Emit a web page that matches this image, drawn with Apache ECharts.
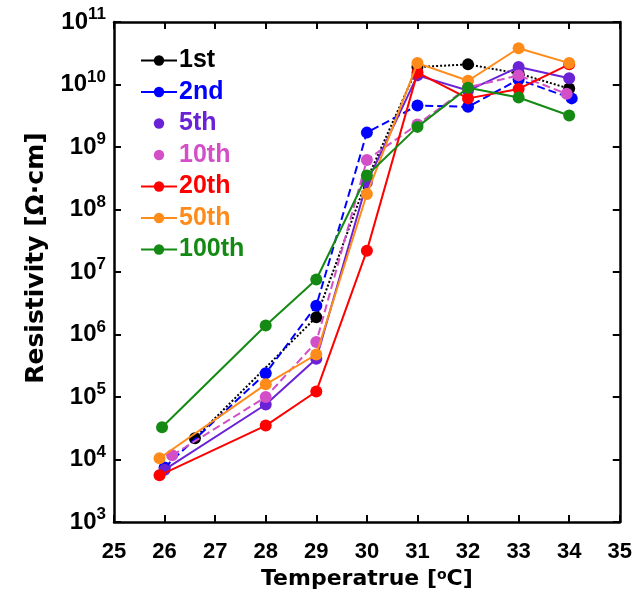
<!DOCTYPE html>
<html>
<head>
<meta charset="utf-8">
<script src="https://cdn.jsdelivr.net/npm/echarts@6/dist/echarts.min.js"></script>
<style>
html,body{margin:0;padding:0;background:#fff;}
#chart{width:635px;height:595px;}
</style>
</head>
<body>
<div id="chart"></div>
<script>
// ---- data ----
const seriesNames = ['1st', '2nd', '5th', '10th', '20th', '50th', '100th'];
const seriesColors = ['#000000', '#0000ff', '#6a22d6', '#d24fc8', '#ff0000', '#ff8c1a', '#148a14'];

const temp1st = [26.6, 29, 30, 31, 32, 33, 34];
const res1st = [2.2e4, 1.9e6, 3.0e8, 1.9e10, 2.1e10, 1.5e10, 8.6e9];

const temp2nd = [26, 28, 29, 30, 31, 32, 33, 34.05];
const res2nd = [7.5e3, 2.4e5, 2.9e6, 1.7e9, 4.6e9, 4.4e9, 1.2e10, 6.0e9];

const temp5th = [26, 28, 29, 30, 31, 32, 33, 34];
const res5th = [6.9e3, 7.6e4, 4.1e5, 2.7e8, 1.4e10, 8.0e9, 1.9e10, 1.26e10];

const temp10th = [26.15, 28, 29, 30, 31, 32, 33, 33.95];
const res10th = [1.17e4, 1.0e5, 7.6e5, 6.2e8, 2.3e9, 9.0e9, 1.4e10, 7.1e9];

const temp20th = [25.9, 28, 29, 30, 31, 32, 33, 34];
const res20th = [5.6e3, 3.5e4, 1.23e5, 2.2e7, 1.55e10, 6.0e9, 8.5e9, 2.1e10];

const temp50th = [25.9, 28, 29, 30, 31, 32, 33, 34];
const res50th = [1.05e4, 1.6e5, 4.8e5, 1.77e8, 2.2e10, 1.15e10, 3.8e10, 2.2e10];

const temp100th = [25.95, 28, 29, 30, 31, 32, 33, 34];
const res100th = [3.3e4, 1.4e6, 7.6e6, 3.5e8, 2.1e9, 8.9e9, 6.2e9, 3.2e9];

const seriesTemps = [temp1st, temp2nd, temp5th, temp10th, temp20th, temp50th, temp100th];
const seriesRes = [res1st, res2nd, res5th, res10th, res20th, res50th, res100th];
const seriesLineTypes = ['dotted', 'dashed', 'solid', 'dashed', 'solid', 'solid', 'solid'];
const legendNoLine = ['5th', '10th'];

const xMin = 25, xMax = 35, xStep = 1;
const yMin = 1e3, yMax = 1e11;
const xTitle = 'Temperatrue [{s|o}C]';
const yTitle = 'Resistivity [Ω·cm]';

// ---- chart ----
const FONT = '"Liberation Sans", Arial, sans-serif';
const WIDE = '"DejaVu Sans", sans-serif';
const chart = echarts.init(document.getElementById('chart'), null, {renderer: 'canvas'});

const series = seriesNames.map((name, i) => ({
  name: name,
  type: 'line',
  data: seriesTemps[i].map((t, k) => [t, seriesRes[i][k]]),
  symbol: 'circle',
  symbolSize: 12,
  color: seriesColors[i],
  lineStyle: {color: seriesColors[i], width: 2, type: seriesLineTypes[i]},
  itemStyle: {color: seriesColors[i]},
  emphasis: {disabled: true},
  animation: false,
  z: 2 + i
}));

const legendData = seriesNames.map((name, i) => {
  const d = {name: name, textStyle: {color: seriesColors[i]},
    lineStyle: {type: 'solid', width: 2, color: seriesColors[i]}};
  if (legendNoLine.indexOf(name) >= 0) d.lineStyle = {opacity: 0};
  return d;
});

const axisLineStyle = {show: true, lineStyle: {color: '#000', width: 2.5}};
const tickStyle = {show: true, inside: true, length: 7, lineStyle: {color: '#000', width: 2}};

chart.setOption({
  animation: false,
  backgroundColor: '#fff',
  grid: {left: 114, top: 22, right: 15, bottom: 68, containLabel: false},
  legend: {
    orient: 'vertical',
    left: 135,
    top: 43,
    itemWidth: 36,
    itemHeight: 13,
    itemGap: 6.5,
    data: legendData,
    textStyle: {fontFamily: FONT, fontWeight: 'bold', fontSize: 25, lineHeight: 23, padding: [0, 0, 0, -3]}
  },
  xAxis: [{
    type: 'value', min: xMin, max: xMax, interval: xStep,
    position: 'bottom',
    axisLine: axisLineStyle,
    axisTick: tickStyle,
    splitLine: {show: false},
    axisLabel: {color: '#000', fontFamily: FONT, fontWeight: 'bold', fontSize: 22, margin: 19},
    name: xTitle,
    nameLocation: 'middle',
    nameGap: 42,
    nameTextStyle: {color: '#000', fontFamily: WIDE, fontWeight: 'bold', fontSize: 22,
      rich: {s: {fontFamily: WIDE, fontWeight: 'bold', fontSize: 14, verticalAlign: 'top', lineHeight: 14}}}
  }, {
    type: 'value', min: xMin, max: xMax, interval: xStep,
    position: 'top',
    axisLine: axisLineStyle,
    axisTick: tickStyle,
    axisLabel: {show: false},
    splitLine: {show: false}
  }],
  yAxis: [{
    type: 'log', logBase: 10, min: yMin, max: yMax,
    position: 'left',
    axisLine: axisLineStyle,
    axisTick: tickStyle,
    minorTick: {show: false},
    splitLine: {show: false},
    axisLabel: {
      color: '#000', margin: 8,
      formatter: v => '{b|10}{e|' + Math.round(Math.log10(v)) + '}',
      rich: {
        b: {fontFamily: FONT, fontWeight: 'bold', fontSize: 24, lineHeight: 32, color: '#000'},
        e: {fontFamily: FONT, fontWeight: 'bold', fontSize: 17, lineHeight: 17, verticalAlign: 'top', color: '#000'}
      }
    },
    name: yTitle,
    nameLocation: 'middle',
    nameGap: 62,
    nameRotate: 90,
    nameTextStyle: {color: '#000', fontFamily: WIDE, fontWeight: 'bold', fontSize: 25, padding: [0, 0, 0, 28]}
  }, {
    type: 'log', logBase: 10, min: yMin, max: yMax,
    position: 'right',
    axisLine: axisLineStyle,
    axisTick: tickStyle,
    axisLabel: {show: false},
    splitLine: {show: false}
  }],
  series: series
});
</script>
</body>
</html>
